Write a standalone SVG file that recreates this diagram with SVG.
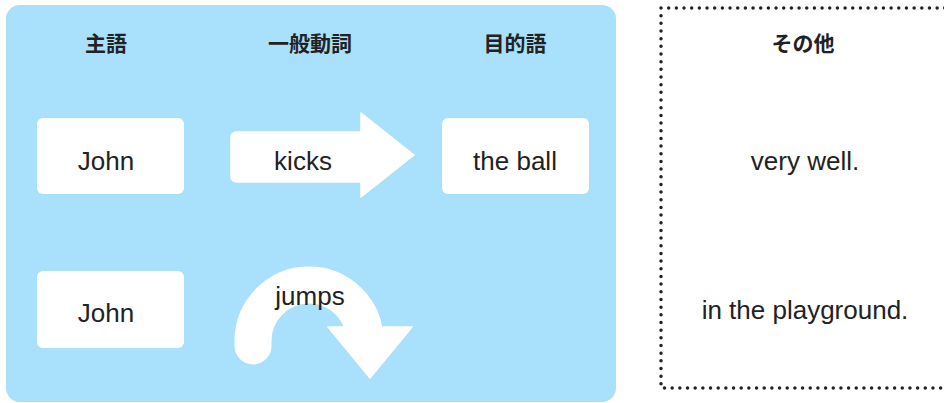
<svg xmlns="http://www.w3.org/2000/svg" width="944" height="403" viewBox="0 0 944 403">
<style>
.hdr{font-family:"Noto Sans CJK JP","Noto Sans",sans-serif;font-weight:700;font-size:21px;fill:#222;text-anchor:middle}
.lbl{font-family:"Liberation Sans",Arial,sans-serif;font-size:26px;fill:#222;text-anchor:middle}
.box{fill:#fff}
</style>
<rect x="0" y="0" width="944" height="403" fill="#fff"/>
<g id="panel">
<rect x="6" y="5" width="610" height="397" rx="14" fill="#a9e0fb"/>
</g>
<g id="other-frame">
<path d="M661 8 H950 M661 8 V388 H950" fill="none" stroke="#222" stroke-width="3.5" stroke-linecap="round" stroke-dasharray="0 7.67"/>
</g>
<g id="headers">
<text class="hdr" x="106" y="51">主語</text>
<text class="hdr" x="310" y="51">一般動詞</text>
<text class="hdr" x="515" y="51">目的語</text>
<text class="hdr" x="803" y="51">その他</text>
</g>
<g id="node-john1">
<rect class="box" x="37" y="118" width="147" height="76" rx="6"/>
<text class="lbl" x="106" y="170">John</text>
</g>
<g id="node-kicks">
<path class="box" d="M237 132 H361 V113 L414 155 L361 197 V182 H237 Q231 182 231 176 V138 Q231 132 237 132 Z" stroke="#fff" stroke-width="1.5" stroke-linejoin="round"/>
<text class="lbl" x="303" y="170">kicks</text>
</g>
<g id="node-ball">
<rect class="box" x="442" y="118" width="147" height="76" rx="6"/>
<text class="lbl" x="515" y="170">the ball</text>
</g>
<g id="node-john2">
<rect class="box" x="37" y="271" width="147" height="77" rx="6"/>
<text class="lbl" x="106" y="322">John</text>
</g>
<g id="node-jumps">
<path d="M253 346 V341 A56 56 0 0 1 365 341 V336" fill="none" stroke="#fff" stroke-width="37" stroke-linecap="round"/>
<path class="box" d="M328 327 H412 L370 378 Z" stroke="#fff" stroke-width="1.5" stroke-linejoin="round"/>
<text class="lbl" x="310" y="305">jumps</text>
</g>
<g id="node-verywell">
<text class="lbl" x="805" y="170">very well.</text>
</g>
<g id="node-playground">
<text class="lbl" x="805" y="319">in the playground.</text>
</g>
<g id="connectors"></g>
</svg>
